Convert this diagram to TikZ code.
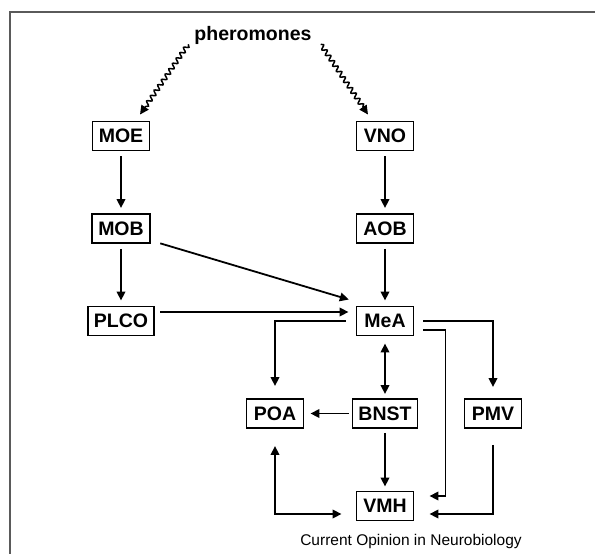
\documentclass[tikz,border=0pt]{standalone}
\usepackage{fontspec}
\setmainfont{Liberation Sans}
\usepackage{tikz}
\usetikzlibrary{arrows.meta,positioning,decorations.pathmorphing}
\definecolor{framegray}{HTML}{5A5A5A}

\begin{document}
\begin{tikzpicture}[x=1pt,y=1pt,node distance=92.5pt,on grid,>={Triangle[length=9pt,width=8.5pt]}]
\tikzset{box/.style={draw,line width=1.9pt,minimum width=57pt,minimum height=29pt,inner xsep=6pt,inner ysep=0pt,font=\fontsize{19.5}{22}\selectfont\bfseries}}
\tikzset{link/.style={->,line width=1.8pt,shorten <=5pt,shorten >=5pt}}
\tikzset{wavy/.style={->,line width=1.5pt,decorate,decoration={snake,amplitude=2.2pt,segment length=6.5pt,post length=8pt}}}
\useasboundingbox (0,0) rectangle (595,-554);
\draw[framegray,line width=2pt] (595,-12) -- (10,-12) -- (10,-554);
\node[inner sep=0pt,font=\fontsize{19.5}{22}\selectfont\bfseries] (pher) at (253,-35) {pheromones};
\node[box] (moe) at (121,-136) {MOE};
\node[box,right=264pt of moe] (vno) {VNO};
\node[box,below=of moe] (mob) {MOB};
\node[box,below=of vno] (aob) {AOB};
\node[box,below=of mob] (plco) {PLCO};
\node[box,below=of aob] (mea) {MeA};
\node[box,below=of mea] (bnst) {BNST};
\node[box,left=110pt of bnst] (poa) {POA};
\node[box,right=108pt of bnst] (pmv) {PMV};
\node[box,below=of bnst] (vmh) {VMH};
\node[font=\fontsize{15.5}{18}\selectfont] (credit) at (411,-541) {Current Opinion in Neurobiology};
% input side
\draw[wavy] ([xshift=-6pt]pher.south west) -- ([xshift=19pt,yshift=6pt]moe.north);
\draw[wavy] ([xshift=9pt]pher.south east) -- ([xshift=-17pt,yshift=6pt]vno.north);
\draw[link] (moe) -- (mob);
\draw[link] (vno) -- (aob);
\draw[link] (mob) -- (plco);
\draw[link] (aob) -- (mea);
\draw[link,shorten <=10pt,shorten >=7pt] ([yshift=-12pt]mob.east) -- ([yshift=4pt]mea.north west);
\draw[link,shorten >=7pt] ([yshift=9pt]plco.east) -- ([yshift=9pt]mea.west);
% output side
\draw[link,shorten <=10pt,shorten >=12pt] (mea.west) -| (poa.north);
\draw[link,shorten <=9pt,shorten >=11pt] (mea.east) -| (pmv.north);
\draw[link,shorten <=9pt,shorten >=15pt] ([yshift=-9pt]mea.east) -- ++(31pt,0) |- ([yshift=10pt]vmh.east);
\draw[link,<->,shorten <=7pt,shorten >=4pt] (mea) -- (bnst);
\draw[link,shorten <=3pt,shorten >=6pt] (bnst) -- (poa);
\draw[link,shorten <=4pt,shorten >=4pt] (bnst) -- (vmh);
\draw[link,shorten <=16pt,shorten >=15pt] (pmv.south) |- ([yshift=-8pt]vmh.east);
\draw[link,<->,shorten <=17pt,shorten >=14pt] (poa.south) |- ([yshift=-8pt]vmh.west);
\end{tikzpicture}
\end{document}
